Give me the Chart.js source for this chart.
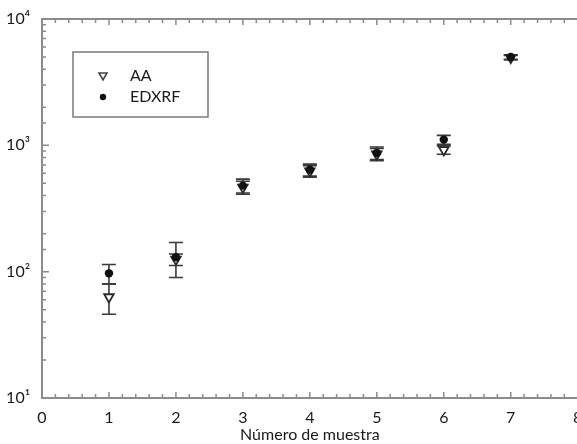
<!DOCTYPE html>
<html>
<head>
<meta charset="utf-8">
<script src="https://cdn.jsdelivr.net/npm/chart.js@4/dist/chart.umd.min.js"></script>
<style>
  html, body { margin: 0; padding: 0; background: #fff; overflow: hidden; }
  #wrap { width: 585px; height: 444px; }
</style>
</head>
<body>
<div id="wrap"><canvas id="c"></canvas></div>
<script>
const samples = [1, 2, 3, 4, 5, 6, 7];
const aaValues = [63, 125, 465, 625, 850, 920, 4950];
const aaErrors = [17, 13, 55, 65, 95, 70, 200];
const edxrfValues = [97, 130, 480, 640, 870, 1110, 5000];
const edxrfErrors = [17, 40, 60, 70, 100, 90, 200];
const seriesNames = ['AA', 'EDXRF'];
const xTitle = 'Número de muestra';
const yTickLabels = { 10: '10¹', 100: '10²', 1000: '10³', 10000: '10⁴' };

const FONT = 'Lato, "Open Sans", sans-serif';
const AXIS = '#8c8c8c';

const errorBarPlugin = {
  id: 'errbars',
  beforeDatasetsDraw(chart) {
    const ctx = chart.ctx, xs = chart.scales.x, ys = chart.scales.y;
    ctx.save();
    ctx.strokeStyle = '#3a3a3a';
    ctx.lineWidth = 1.6;
    chart.data.datasets.forEach(ds => {
      ds.data.forEach(p => {
        const px = xs.getPixelForValue(p.x);
        const yt = ys.getPixelForValue(p.y + p.err);
        const yb = ys.getPixelForValue(p.y - p.err);
        ctx.beginPath();
        ctx.moveTo(px, yt); ctx.lineTo(px, yb);
        ctx.moveTo(px - 7, yt); ctx.lineTo(px + 7, yt);
        ctx.moveTo(px - 7, yb); ctx.lineTo(px + 7, yb);
        ctx.stroke();
      });
    });
    ctx.restore();
  }
};

const frameTicksPlugin = {
  id: 'frameTicks',
  afterDraw(chart) {
    const ctx = chart.ctx, xs = chart.scales.x, ys = chart.scales.y;
    const { left, right, top, bottom } = chart.chartArea;
    ctx.save();
    ctx.strokeStyle = AXIS;
    ctx.lineWidth = 2;
    ctx.beginPath();
    ctx.moveTo(left, top); ctx.lineTo(right + 5, top);
    ctx.stroke();
    ctx.lineWidth = 1.5;
    ctx.beginPath();
    ys.ticks.forEach(t => {
      const py = ys.getPixelForValue(t.value);
      const lg = Math.log10(t.value);
      const len = Math.abs(lg - Math.round(lg)) < 1e-9 ? 7 : 4;
      ctx.moveTo(left, py); ctx.lineTo(left + len, py);
    });
    xs.ticks.forEach(t => {
      const px = xs.getPixelForValue(t.value);
      const len = Math.abs(t.value - Math.round(t.value)) < 1e-6 ? 6 : 4;
      ctx.moveTo(px, bottom); ctx.lineTo(px, bottom - len);
      ctx.moveTo(px, top); ctx.lineTo(px, top + len);
    });
    ctx.stroke();

    // legend box
    const bx = 73, by = 52, bw = 135, bh = 65;
    ctx.strokeStyle = '#7a7a7a';
    ctx.lineWidth = 1.5;
    ctx.fillStyle = '#fff';
    ctx.fillRect(bx, by, bw, bh);
    ctx.strokeRect(bx, by, bw, bh);
    ctx.font = '16px ' + FONT;
    ctx.textBaseline = 'middle';
    ctx.fillStyle = '#1a1a1a';
    ctx.fillText(seriesNames[0], 130, 76);
    ctx.fillText(seriesNames[1], 130, 97);
    ctx.strokeStyle = '#444';
    ctx.lineWidth = 1.6;
    ctx.fillStyle = '#fff';
    ctx.beginPath();
    ctx.moveTo(99, 73); ctx.lineTo(107, 73); ctx.lineTo(103, 80); ctx.closePath();
    ctx.fill(); ctx.stroke();
    ctx.fillStyle = '#111';
    ctx.beginPath();
    ctx.arc(103, 97, 3.2, 0, Math.PI * 2);
    ctx.fill();
    ctx.restore();
  }
};

new Chart(document.getElementById('c'), {
  type: 'scatter',
  data: {
    datasets: [
      {
        label: seriesNames[0],
        order: 1,
        data: samples.map((s, i) => ({ x: s, y: aaValues[i], err: aaErrors[i] })),
        pointStyle: 'triangle',
        rotation: 180,
        radius: 5.5,
        borderWidth: 1.8,
        borderColor: '#2a2a2a',
        backgroundColor: '#fff'
      },
      {
        label: seriesNames[1],
        order: 0,
        data: samples.map((s, i) => ({ x: s, y: edxrfValues[i], err: edxrfErrors[i] })),
        pointStyle: 'circle',
        radius: 4.2,
        borderWidth: 0,
        borderColor: '#111',
        backgroundColor: '#111'
      }
    ]
  },
  options: {
    responsive: true,
    maintainAspectRatio: false,
    animation: false,
    layout: { padding: { top: 19, right: 0, left: 0, bottom: 0 } },
    plugins: { legend: { display: false }, tooltip: { enabled: false } },
    scales: {
      x: {
        type: 'linear',
        min: 0, max: 8,
        grid: { display: false },
        border: { display: true, color: AXIS, width: 2 },
        ticks: {
          stepSize: 0.2,
          autoSkip: false,
          maxRotation: 0,
          padding: 2,
          color: '#1a1a1a',
          font: { family: FONT, size: 16 },
          callback: v => (Math.abs(v - Math.round(v)) < 1e-6 ? String(Math.round(v)) : '')
        },
        title: {
          display: true,
          text: xTitle,
          color: '#1a1a1a',
          font: { family: FONT, size: 16 },
          padding: { top: 0, bottom: 0 }
        },
        afterFit: s => { s.height = 46; }
      },
      y: {
        type: 'logarithmic',
        min: 10, max: 10000,
        grid: { display: false },
        border: { display: true, color: AXIS, width: 2 },
        ticks: {
          autoSkip: false,
          padding: 4,
          color: '#1a1a1a',
          font: { family: FONT, size: 16 },
          callback: v => yTickLabels[v] || ''
        },
        afterFit: s => { s.width = 42; }
      }
    }
  },
  plugins: [errorBarPlugin, frameTicksPlugin]
});
</script>
</body>
</html>
